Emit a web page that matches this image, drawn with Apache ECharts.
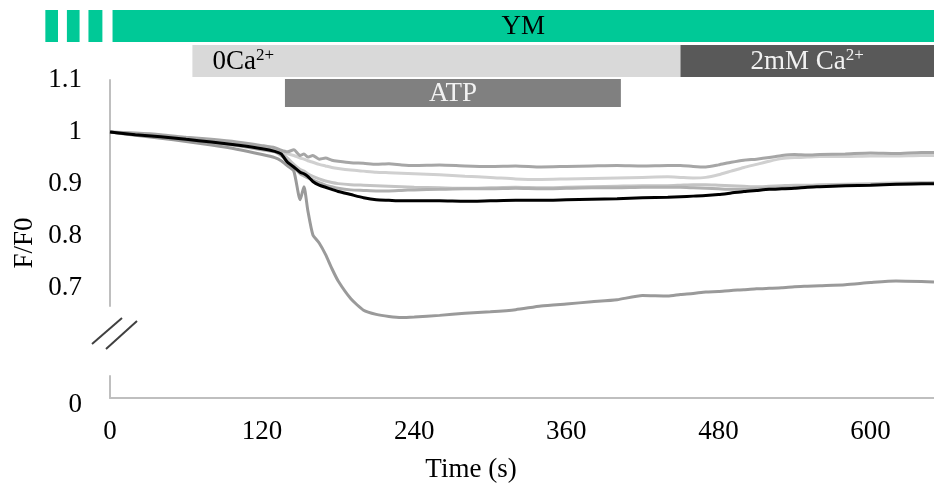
<!DOCTYPE html>
<html><head><meta charset="utf-8">
<script src="https://cdn.jsdelivr.net/npm/echarts@6/dist/echarts.min.js"></script>
<style>html,body{margin:0;padding:0;background:#fff}#c{width:934px;height:494px}</style>
</head><body><div id="c"></div>
<script>
// ---- data ----
const time = [0,20,40,60,80,100,120,130,135,140,145,150,153,156,160,165,170,175,180,190,200,210,220,230,240,260,280,300,320,340,360,380,400,420,440,450,460,470,480,490,500,510,520,530,540,550,560,580,600,620,640,650];
const meanTrace = [1.000,0.995,0.991,0.986,0.981,0.975,0.968,0.963,0.958,0.942,0.933,0.923,0.920,0.915,0.905,0.898,0.894,0.890,0.886,0.880,0.874,0.870,0.869,0.868,0.868,0.868,0.867,0.868,0.869,0.869,0.870,0.871,0.872,0.874,0.875,0.876,0.877,0.878,0.880,0.883,0.886,0.888,0.890,0.891,0.892,0.894,0.895,0.897,0.898,0.900,0.901,0.901];
const cellA = [1.000,0.998,0.995,0.990,0.986,0.981,0.974,0.970,0.965,0.962,0.966,0.955,0.958,0.952,0.955,0.948,0.950,0.946,0.944,0.941,0.940,0.938,0.939,0.937,0.936,0.937,0.935,0.934,0.935,0.933,0.934,0.935,0.936,0.935,0.936,0.936,0.934,0.933,0.937,0.942,0.946,0.948,0.951,0.955,0.957,0.956,0.957,0.958,0.960,0.959,0.961,0.961];
const cellB = [1.000,0.996,0.993,0.988,0.984,0.979,0.972,0.968,0.964,0.958,0.955,0.950,0.948,0.945,0.942,0.938,0.935,0.932,0.930,0.927,0.925,0.923,0.922,0.921,0.920,0.918,0.915,0.913,0.910,0.909,0.910,0.911,0.912,0.913,0.914,0.913,0.912,0.913,0.918,0.925,0.932,0.938,0.944,0.949,0.951,0.952,0.953,0.953,0.954,0.954,0.955,0.955];
const cellC = [1.000,0.997,0.993,0.989,0.984,0.978,0.971,0.966,0.960,0.950,0.938,0.928,0.925,0.920,0.915,0.910,0.906,0.903,0.901,0.899,0.898,0.897,0.896,0.895,0.894,0.893,0.892,0.893,0.894,0.893,0.894,0.895,0.896,0.897,0.897,0.898,0.899,0.899,0.898,0.897,0.896,0.895,0.896,0.897,0.898,0.898,0.899,0.900,0.901,0.902,0.903,0.903];
const cellD = [1.000,0.995,0.990,0.985,0.980,0.974,0.966,0.962,0.955,0.944,0.932,0.920,0.916,0.912,0.908,0.903,0.898,0.895,0.892,0.889,0.888,0.887,0.887,0.888,0.889,0.890,0.891,0.891,0.892,0.891,0.892,0.893,0.893,0.894,0.894,0.894,0.893,0.892,0.891,0.890,0.890,0.891,0.892,0.893,0.894,0.895,0.896,0.898,0.899,0.900,0.901,0.902];
const cellE = [1.000,0.994,0.988,0.982,0.975,0.967,0.957,0.951,0.945,0.935,0.925,0.870,0.895,0.850,0.803,0.787,0.765,0.738,0.714,0.680,0.658,0.650,0.646,0.644,0.645,0.648,0.652,0.655,0.659,0.666,0.670,0.674,0.678,0.686,0.685,0.688,0.690,0.693,0.694,0.696,0.697,0.699,0.700,0.701,0.703,0.704,0.705,0.707,0.711,0.714,0.713,0.712];
const yTicks = [0.7,0.8,0.9,1,1.1];
const xTicks = [0,120,240,360,480,600];
// annotation bars (time in s)
const annStart = [-51,-34,-17,2,65,450,138];
const annEnd   = [-41,-24,-6,650,450,650,403];
const annRow   = [0,0,0,0,1,1,2];
const annText  = ['','','','YM','0Ca{s|2+}','2mM Ca{s|2+}','ATP'];

// ---- styles ----
const FONT = 'Liberation Serif';
const rowTop = [10,45,79], rowH = [32,32,28];
const annFill = ['#00c997','#00c997','#00c997','#00c997','#d9d9d9','#595959','#808080'];
const annTextColor = ['#000','#000','#000','#000','#000','#f2f2f2','#f2f2f2'];
const annAlign = ['center','center','center','center','left','center','center'];
const xMax = 650, annMin = -60;
const plotLeft = 110, plotW = 934 - plotLeft;
const annLeft = plotLeft + annMin * plotW / xMax;

function pairs(arr){ return time.map((t,i)=>[t,arr[i]]); }

const chart = echarts.init(document.getElementById('c'), null, {renderer:'canvas'});
const lineS = (name, arr, color, w, z) => ({
  name, type:'line', xAxisIndex:0, yAxisIndex:0, data:pairs(arr), showSymbol:false, symbol:'none',
  clip:false, smooth:0.2, lineStyle:{color, width:w}, z, animation:false
});

chart.setOption({
  animation:false,
  textStyle:{fontFamily:FONT},
  grid:[
    {left:plotLeft, right:0, top:80, height:226},
    {left:plotLeft, right:0, top:376, height:22},
    {left:annLeft, right:0, top:0, height:110}
  ],
  xAxis:[
    {gridIndex:0, type:'value', min:0, max:xMax, show:false},
    {gridIndex:1, type:'value', min:0, max:xMax, interval:120,
     axisLine:{show:true, onZero:false, lineStyle:{color:'#bfbfbf', width:2}},
     axisTick:{show:false}, splitLine:{show:false},
     axisLabel:{margin:20, fontSize:27, color:'#000', fontFamily:FONT, customValues: xTicks}},
    {gridIndex:2, type:'value', min:annMin, max:xMax, show:false}
  ],
  yAxis:[
    {gridIndex:0, type:'value', min:0.666, max:1.1,
     axisLine:{show:true, lineStyle:{color:'#bfbfbf', width:2}},
     axisTick:{show:false}, splitLine:{show:false},
     axisLabel:{margin:28, fontSize:27, color:'#000', fontFamily:FONT, customValues:yTicks,
       formatter:v=>String(+v.toFixed(2))}},
    {gridIndex:1, type:'value', min:0, max:1,
     axisLine:{show:true, lineStyle:{color:'#bfbfbf', width:2}},
     axisTick:{show:false}, splitLine:{show:false},
     axisLabel:{margin:28, fontSize:27, color:'#000', fontFamily:FONT, customValues:[0],
       verticalAlign:'top', lineHeight:14}},
    {gridIndex:2, type:'value', min:0, max:1, show:false}
  ],
  series:[
    lineS('B', cellB, '#d0d0d0', 3, 2),
    lineS('C', cellC, '#c4c4c4', 3, 3),
    lineS('D', cellD, '#b0b0b0', 3, 4),
    lineS('A', cellA, '#a6a6a6', 3, 5),
    lineS('E', cellE, '#9a9a9a', 3, 6),
    lineS('mean', meanTrace, '#000000', 3, 10),
    {
      type:'custom', xAxisIndex:2, yAxisIndex:2, animation:false, clip:false,
      data: annStart.map((s,i)=>[s, annEnd[i], annRow[i], i]),
      renderItem:(params, api)=>{
        const i = api.value(3);
        const r = api.value(2);
        const x0 = api.coord([api.value(0),0])[0];
        const x1 = api.coord([api.value(1),0])[0];
        const children = [{type:'rect', shape:{x:x0, y:rowTop[r], width:x1-x0, height:rowH[r]}, style:{fill:annFill[i]}}];
        if (annText[i]) {
          const left = annAlign[i]==='left';
          children.push({type:'text', x: left ? x0+20 : (x0+x1)/2, y: rowTop[r]+rowH[r]/2+1,
            style:{text:annText[i], fill:annTextColor[i], font:'27px "Liberation Serif"', fontFamily:FONT, fontSize:27,
              align:annAlign[i], verticalAlign:'middle',
              rich:{s:{fontSize:17, fontFamily:FONT, fill:annTextColor[i], padding:[0,0,12,0]}}}});
        }
        return {type:'group', children};
      }
    }
  ],
  graphic:[
    {type:'line', shape:{x1:92,y1:344,x2:122,y2:318}, style:{stroke:'#404040', lineWidth:2}},
    {type:'line', shape:{x1:106,y1:349,x2:137,y2:321}, style:{stroke:'#404040', lineWidth:2}},
    {type:'text', x:25, y:243, rotation:Math.PI/2, style:{text:'F/F0', font:'27px "Liberation Serif"', fill:'#000', align:'center', verticalAlign:'middle'}},
    {type:'text', x:471, y:470, style:{text:'Time (s)', font:'27px "Liberation Serif"', fill:'#000', align:'center', verticalAlign:'middle'}}
  ]
});
</script></body></html>
